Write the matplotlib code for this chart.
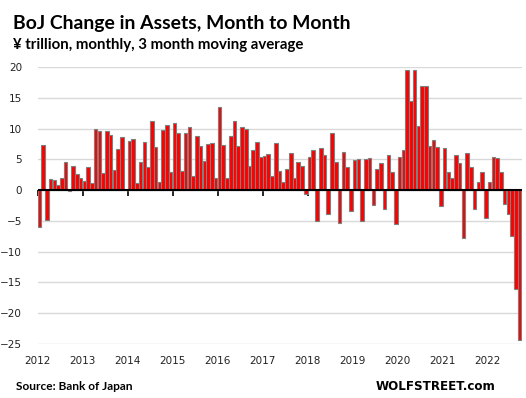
import matplotlib
matplotlib.use("Agg")
import matplotlib.pyplot as plt
import numpy as np
import pandas as pd

title = "BoJ Change in Assets, Month to Month"
subtitle = "¥ trillion, monthly, 3 month moving average"
source = "Source: Bank of Japan"
brand = "WOLFSTREET.com"

months = pd.period_range("2012-01", "2022-09", freq="M")
change = [
    -6.0, 7.4, -4.8, 1.76, 1.6, 0.82, 1.92, 4.56, -0.15, 3.9, 2.58, 1.92,          # 2012
    1.43, 3.74, 1.2, 9.95, 9.67, 2.75, 9.67, 9.0, 3.24, 6.7, 8.68, 0.1,            # 2013
    8.0, 8.35, 1.1, 4.56, 7.86, 3.74, 11.3, 7.03, 1.26, 9.83, 10.66, 2.9,          # 2014
    11.0, 9.34, 3.08, 9.34, 10.33, 2.25, 8.85, 7.2, 4.73, 7.53, 7.7, 1.92,         # 2015
    13.46, 7.36, 1.92, 8.85, 11.3, 7.2, 10.33, 10.0, 3.9, 6.54, 7.86, 5.38,        # 2016
    5.55, 5.88, 2.25, 7.7, 3.08, 1.26, 3.4, 6.04, 1.92, 4.56, 3.9, -0.55,          # 2017
    5.38, 6.54, -5.0, 6.87, 5.71, -3.85, 9.34, 4.56, -5.33, 6.2, 3.74, -3.45,      # 2018
    4.95, 5.05, -4.95, 5.0, 5.16, -2.34, 3.37, 4.35, -3.0, 5.8, 2.88, -5.43,       # 2019
    5.33, 6.52, 19.5, 14.46, 19.5, 10.4, 16.9, 16.9, 7.12, 8.1, 6.96, -2.6,        # 2020
    6.8, 3.04, 1.96, 5.65, 4.35, -7.72, 5.98, 3.7, -3.0, 1.41, 3.04, -4.46,        # 2021
    1.41, 5.33, 5.16, 2.88, -2.17, -3.8, -7.4, -16.0, -24.35,                      # 2022
]
year_labels = [str(y) for y in range(2012, 2023)]
y_ticks = [20, 15, 10, 5, 0, -5, -10, -15, -20, -25]

fig = plt.figure(figsize=(5.26, 3.98), dpi=100)
ax = fig.add_axes([37.5 / 526, 1 - 343.8 / 398, (521.5 - 37.5) / 526, (343.8 - 67.3) / 398])

x = np.arange(len(months)) + 0.5
ax.bar(x, change, width=0.95, color="#ff0000", edgecolor="#7f7f7f",
       linewidth=0.8, zorder=3)
ax.set_xlim(0, len(months))
ax.set_ylim(-25, 20)
ax.set_yticks(y_ticks)
ax.yaxis.grid(True, color="#d9d9d9", linewidth=1)
ax.set_axisbelow(True)
for s in ax.spines.values():
    s.set_visible(False)
ax.tick_params(axis="y", length=0, pad=11, labelsize=7.5, labelcolor="#222222")

year_pos = [i for i, m in enumerate(months) if m.month == 1]
ax.set_xticks(year_pos)
ax.set_xticklabels(year_labels)
ax.tick_params(axis="x", length=0, pad=9, labelsize=7.5, labelcolor="#222222")

ax.axhline(0, color="black", lw=1.5, zorder=4)
sec = ax.secondary_xaxis(0, transform=ax.transData)
sec.set_xticks(year_pos)
sec.set_xticklabels([])
sec.tick_params(length=4, width=1.2, direction="out", color="black")
for s in sec.spines.values():
    s.set_visible(False)

def place(txt, x_px, yc_px, width_px, **kw):
    t = fig.text(x_px / 526, 1 - yc_px / 398, txt, va="center", ha="left",
                 fontsize=12, **kw)
    fig.canvas.draw()
    w = t.get_window_extent(fig.canvas.get_renderer()).width
    t.set_fontsize(12 * width_px / w)
    return t

place(title, 13, 23, 337, family="Lato", fontweight="bold", color="black")
place(subtitle, 13, 44.5, 290, family="Lato", fontweight="bold", color="black")
place(source, 16, 387, 117, family="Lato", fontweight="bold", color="black")
place(brand, 376, 386, 120, family="DejaVu Sans", fontweight="bold", color="black")

fig.savefig("out.png", dpi=100)
